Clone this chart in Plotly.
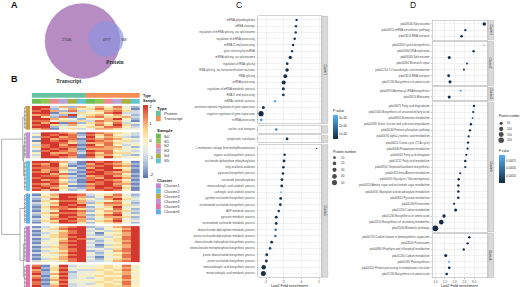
import numpy as np
import plotly.graph_objects as go

W, H = 520, 287
FONT = "Liberation Sans, Arial, sans-serif"
SERIF = "Liberation Serif, Times New Roman, serif"

# ---------------- Panel A: Venn ----------------
venn_names = ["Transcript", "Protein"]
venn_counts = [27446, 4977, 368]   # transcript only, overlap, protein only

# ---------------- Panel B: heatmap ----------------
sample_names = ["S0", "S1", "S2", "S3", "S4", "S5"]
type_names = ["Protein", "Transcript"]
cluster_names = ["Cluster1", "Cluster2", "Cluster3", "Cluster4", "Cluster5", "Cluster6"]
column_types = ["Protein"] * 6 + ["Transcript"] * 6
column_samples = sample_names * 2
type_colors = ["#66C2A5", "#F58E55"]
sample_colors = ["#6CBD55", "#8DC650", "#EF8A8C", "#B7A2DA", "#A9B03F", "#5FC6CF"]
cluster_colors = ["#C97FCB", "#62C5E2", "#C8A23E", "#C393D6", "#EA6EA8", "#62AEE6"]
heat_palette = ["#5A72AE", "#A2B5D5", "#DDE6E8", "#FBF6C9", "#F9D58C", "#F08558", "#D2312B"]
heat_ticks = [-2, -1, 0, 1, 2]
block_order = ["Cluster3", "Cluster4", "Cluster2", "Cluster6", "Cluster1", "Cluster5"]

# row-scaled expression, digit d -> (d-4)/2
rows_cluster3 = ["882616464731", "871364575640", "786172356752", "880525447822",
                 "672183564631", "851704675562", "886431346841", "773525276630",
                 "868071564723", "785263475851", "881434557742", "670352366533"]
rows_cluster4 = ["288760876542", "487871757432", "178672846521", "386770767643",
                 "087861876452", "488751667533", "278680857424", "578771776631",
                 "387860666543", "178761877432", "486672757553", "287870866421",
                 "388760758534"]
rows_cluster2 = ["887620878740", "768410687651", "878501778760", "777630688541",
                 "867511878850", "768420787660", "886701887741", "877520678650",
                 "788611768861", "867420787640", "887510878751", "768631678660",
                 "877400788741", "786521687850", "868412778740"]
rows_cluster6 = ["046887245731", "255876137642", "137885426853", "054776234632",
                 "246886157741", "135878346652", "057787135833", "146765254741",
                 "034887146652", "257776345731", "145886157843", "036877246651",
                 "247786135732", "155876356843", "036885145631"]
rows_cluster1 = ["024678123678", "235788314468", "043578232578", "124678304468",
                 "035688213568", "245678332478", "024587124578", "134678313568",
                 "043788224478", "234678302568", "025688214468", "144678332578",
                 "023578124678", "235688313468", "043578324578", "134688203478",
                 "025678314568", "243578223678"]
rows_cluster5 = ["704823345474", "815734445463", "605832254574", "714713345464",
                 "816823445563", "604724354474", "715823245574", "806734445464",
                 "714833354573", "705723245474", "816823445564", "604734354454"]

# ---------------- Panel C: GO enrichment ----------------
c1_terms = ["mRNA polyadenylation", "mRNA cleavage", "regulation of mRNA splicing, via spliceosome",
            "regulation of mRNA processing", "mRNA 3'-end processing", "gene silencing by miRNA",
            "mRNA splicing, via spliceosome", "regulation of RNA splicing",
            "RNA splicing, via transesterification reactions", "RNA splicing", "mRNA processing",
            "regulation of mRNA metabolic process", "RNA 3'-end processing", "mRNA catabolic process",
            "posttranscriptional regulation of gene expression", "negative regulation of gene expression",
            "ncRNA processing"]
c1_fold = [3.73, 3.69, 3.68, 3.62, 3.53, 3.47, 3.37, 3.20, 3.19, 3.09, 3.00, 2.98, 2.98, 2.51, 1.85, 1.72, 1.73]
c1_count = [7, 7, 7, 8, 8, 7, 17, 10, 19, 22, 27, 13, 10, 8, 13, 52, 11]
c1_p = [6e-7, 6e-7, 5e-7, 5e-7, 6e-7, 7e-7, 4e-7, 6e-7, 4e-7, 4e-7, 4e-7, 6e-7, 7e-7, 3.2e-6, 6e-7, 4e-7, 3.0e-6]
c2_terms = ["nucleic acid transport"]
c2_fold = [2.58]
c2_count = [8]
c2_p = [2.2e-6]
c3_terms = ["cytoplasmic translation"]
c3_fold = [3.19]
c3_count = [10]
c3_p = [5e-7]
c4_terms = ["L-methionine salvage from methylthioadenosine", "organic acid biosynthetic process",
            "nucleoside diphosphate phosphorylation", "fatty acid beta-oxidation",
            "pyruvate biosynthetic process", "nucleotide phosphorylation",
            "monocarboxylic acid catabolic process", "carboxylic acid catabolic process",
            "pyridine nucleotide biosynthetic process", "nicotinamide nucleotide biosynthetic process",
            "ADP metabolic process", "pyruvate metabolic process", "nicotinamide nucleotide metabolic process",
            "ribonucleoside diphosphate metabolic process", "purine nucleoside diphosphate metabolic process",
            "ribonucleoside triphosphate biosynthetic process", "ribonucleoside monophosphate biosynthetic process",
            "purine ribonucleotide biosynthetic process", "purine nucleotide biosynthetic process",
            "monocarboxylic acid biosynthetic process", "monocarboxylic acid metabolic process"]
c4_fold = [4.86, 3.05, 3.02, 2.98, 2.96, 2.90, 2.89, 2.85, 2.83, 2.81, 2.72, 2.58, 2.58, 2.55, 2.53,
           2.32, 2.23, 2.04, 2.02, 1.87, 1.85]
c4_count = [3, 8, 11, 9, 9, 11, 11, 4, 10, 10, 8, 11, 11, 8, 8, 11, 10, 12, 12, 36, 47]
c4_p = [5e-7, 5e-7, 5e-7, 5e-7, 5e-7, 5e-7, 5e-7, 3.3e-6, 5e-7, 5e-7, 6e-7, 6e-7, 6e-7, 1.8e-6, 1.8e-6,
        5e-7, 1.2e-6, 8e-7, 6e-7, 5e-7, 5e-7]
c_strips = ["Cluster1", "", "", "Cluster5"]
c_ticks = [2, 3, 4, 5]
c_size_legend = [10, 20, 30, 40, 50]
c_p_ticks = [1e-6, 2e-6, 3e-6]
c_p_labels = ["1e-06", "2e-06", "3e-06"]

# ---------------- Panel D: KEGG enrichment ----------------
d1_terms = ["pda03040 Spliceosome", "pda03015 mRNA surveillance pathway", "pda03013 RNA transport"]
d1_fold = [3.53, 2.55, 2.36]
d1_count = [61, 18, 26]
d1_p = [5e-5, 8e-5, 6e-5]
d2_terms = ["pda00300 Lysine biosynthesis", "pda03030 DNA replication", "pda03040 Spliceosome",
            "pda03430 Mismatch repair", "pda01210 2-Oxocarboxylic acid metabolism",
            "pda03013 RNA transport", "pda01230 Biosynthesis of amino acids"]
d2_fold = [3.52, 2.98, 1.72, 2.64, 2.48, 1.69, 1.76]
d2_count = [5, 18, 39, 12, 12, 32, 39]
d2_p = [7e-4, 1e-4, 5e-5, 2e-4, 2e-4, 6e-5, 5e-5]
d3_terms = ["pda00970 Aminoacyl-tRNA biosynthesis", "pda03010 Ribosome"]
d3_fold = [2.31, 1.72]
d3_count = [12, 39]
d3_p = [8.5e-4, 5e-5]
d4_terms = ["pda00071 Fatty acid degradation", "pda01040 Biosynthesis of unsaturated fatty acids",
            "pda00650 Butanoate metabolism", "pda00280 Valine, leucine and isoleucine degradation",
            "pda00030 Pentose phosphate pathway", "pda00592 alpha-Linolenic acid metabolism",
            "pda00020 Citrate cycle (TCA cycle)", "pda00640 Propanoate metabolism",
            "pda00062 Fatty acid elongation", "pda01212 Fatty acid metabolism",
            "pda00900 Terpenoid backbone biosynthesis", "pda00410 beta-Alanine metabolism",
            "pda00010 Glycolysis / Gluconeogenesis", "pda00520 Amino sugar and nucleotide sugar metabolism",
            "pda00630 Glyoxylate and dicarboxylate metabolism", "pda00620 Pyruvate metabolism",
            "pda04146 Peroxisome", "pda01200 Carbon metabolism", "pda01230 Biosynthesis of amino acids",
            "pda01110 Biosynthesis of secondary metabolites", "pda01100 Metabolic pathways"]
d4_fold = [3.00, 2.96, 2.93, 2.84, 2.79, 2.72, 2.69, 2.67, 2.60, 2.55, 2.55, 2.29, 2.21, 2.19, 2.19,
           2.19, 1.97, 2.05, 1.45, 1.31, 1.00]
d4_count = [18, 16, 9, 22, 18, 16, 18, 16, 16, 20, 16, 14, 22, 22, 22, 22, 16, 39, 52, 121, 211]
d4_p = [6e-5, 8e-5, 3e-4, 5e-5, 6e-5, 9e-5, 6e-5, 8e-5, 7e-5, 6e-5, 9e-5, 1e-4, 5e-5, 5e-5, 5e-5,
        5e-5, 8e-5, 4e-5, 3e-5, 3e-5, 3e-5]
d5_terms = ["pda00710 Carbon fixation in photosynthetic organisms", "pda03050 Proteasome",
            "pda00860 Porphyrin and chlorophyll metabolism", "pda01200 Carbon metabolism",
            "pda00195 Photosynthesis", "pda04141 Protein processing in endoplasmic reticulum",
            "pda01230 Biosynthesis of amino acids"]
d5_fold = [2.76, 2.67, 2.47, 1.54, 1.71, 1.72, 1.59]
d5_count = [18, 18, 18, 39, 12, 26, 26]
d5_p = [6e-5, 6e-5, 7e-5, 4e-5, 9.3e-4, 6e-5, 5e-5]
d_strips = ["Cluster1", "Cluster2", "Cluster3", "Cluster5", "Cluster6"]
d_ticks = [1.0, 1.5, 2.0, 2.5, 3.0]
d_size_legend = [50, 100, 150, 200]
d_p_ticks = [0.00025, 0.0005, 0.00075]
d_p_labels = ["0.00025", "0.00050", "0.00075"]


# ================= helpers =================
def dx(a, b):
    return [a / W, b / W]


def dy(top, bottom):
    return [1 - bottom / H, 1 - top / H]


annotations = []
shapes = []


def txt(x, y, s, size, xanchor="left", yanchor="middle", bold=False, color="#1a1a1a",
        family=FONT, angle=0):
    if bold:
        s = "<b>" + s + "</b>"
    annotations.append(dict(x=x / W, y=1 - y / H, xref="paper", yref="paper", text=s,
                            showarrow=False, xanchor=xanchor, yanchor=yanchor, textangle=angle,
                            font=dict(family=family, size=size, color=color), borderpad=0))


def rect(x0, y0, x1, y1, fill, line=None, lw=0):
    shapes.append(dict(type="rect", xref="x13", yref="y13", x0=x0, x1=x1, y0=y0, y1=y1,
                       fillcolor=fill, line=dict(color=line or fill, width=lw), layer="above"))


fig = go.Figure()
layout = dict(width=W, height=H, margin=dict(l=0, r=0, t=0, b=0), autosize=False,
              paper_bgcolor="white", plot_bgcolor="rgba(0,0,0,0)", showlegend=False,
              font=dict(family=FONT, size=4, color="#222"))

# canvas axis (pixel coordinates) for decorations
layout["xaxis13"] = dict(domain=[0, 1], range=[0, W], visible=False, anchor="y13", fixedrange=True)
layout["yaxis13"] = dict(domain=[0, 1], range=[H, 0], visible=False, anchor="x13", fixedrange=True)

# ================= Panel A: Venn =================
big = dict(cx=82.5, cy=41, r=37.5)
small = dict(cx=106, cy=39, r=17.5)
shapes.append(dict(type="circle", xref="x13", yref="y13", x0=big["cx"] - big["r"], x1=big["cx"] + big["r"],
                   y0=big["cy"] - big["r"], y1=big["cy"] + big["r"], fillcolor="#B78CC2",
                   line=dict(color="#A983B8", width=0.4), layer="above"))
shapes.append(dict(type="circle", xref="x13", yref="y13", x0=small["cx"] - small["r"], x1=small["cx"] + small["r"],
                   y0=small["cy"] - small["r"], y1=small["cy"] + small["r"], fillcolor="rgba(140,148,222,0.7)",
                   line=dict(color="rgba(140,150,222,0.5)", width=0.3), layer="above"))
txt(66.5, 40, f"{venn_counts[0]}", 3.4, xanchor="center", color="#333")
txt(106.5, 40, f"{venn_counts[1]}", 3.4, xanchor="center", color="#333")
txt(123.5, 40, f"{venn_counts[2]}", 3.4, xanchor="center", color="#333")
txt(114.5, 61.7, venn_names[1], 5.6, xanchor="center", bold=True, family=SERIF, color="#333")
txt(68.5, 81, venn_names[0], 5.6, xanchor="center", bold=True, family=SERIF, color="#333")

# ================= Panel B: heatmap =================
ROW_GAP = 1.3
HEAT_TOP, HEAT_BOTTOM, ROW_PX = 105.7, 287.0, 2.0
span_rows = (HEAT_BOTTOM - HEAT_TOP) / ROW_PX
layout["xaxis"] = dict(domain=dx(31.7, 140), range=[-0.5, 11.5], visible=False, anchor="y", fixedrange=True)
layout["yaxis"] = dict(domain=dy(HEAT_TOP, HEAT_BOTTOM), range=[span_rows - 0.5, -0.5], visible=False,
                       anchor="x", fixedrange=True)
layout["yaxis2"] = dict(domain=dy(93, 104.5), range=[1.5, -0.5], visible=False, anchor="x", fixedrange=True)
layout["xaxis3"] = dict(domain=dx(26, 30), range=[-0.5, 0.5], visible=False, anchor="y", fixedrange=True)

blocks = {"Cluster1": rows_cluster1, "Cluster2": rows_cluster2, "Cluster3": rows_cluster3,
          "Cluster4": rows_cluster4, "Cluster5": rows_cluster5, "Cluster6": rows_cluster6}
offset = 0.0
block_centers = {}
block_rows_px = {}
for name in block_order:
    rows = blocks[name]
    z = np.array([[(int(ch) - 4) / 2 for ch in r] for r in rows])
    n = len(rows)
    yv = offset + np.arange(n)
    fig.add_trace(go.Heatmap(z=z, x=list(range(12)), y=yv, coloraxis="coloraxis", xaxis="x", yaxis="y",
                             hoverinfo="skip"))
    col = cluster_colors[cluster_names.index(name)]
    fig.add_trace(go.Heatmap(z=[[0]] * n, x=[0], y=yv, colorscale=[[0, col], [1, col]], showscale=False,
                             xaxis="x3", yaxis="y", hoverinfo="skip"))
    block_rows_px[name] = [HEAT_TOP + (r + 0.5) * ROW_PX for r in yv]
    block_centers[name] = HEAT_TOP + (offset + n / 2) * ROW_PX
    offset += n + ROW_GAP

ann_colors = type_colors + sample_colors
k = len(ann_colors)
ann_scale = []
for i, c in enumerate(ann_colors):
    ann_scale += [[i / k, c], [(i + 1) / k, c]]
ann_z = [[type_names.index(t) for t in column_types],
         [len(type_names) + sample_names.index(s) for s in column_samples]]
fig.add_trace(go.Heatmap(z=ann_z, x=list(range(12)), y=[0, 1], zmin=-0.5, zmax=k - 0.5, colorscale=ann_scale,
                         showscale=False, ygap=1.3, xaxis="x", yaxis="y2", hoverinfo="skip"))
txt(141.5, 95.6, "Type", 3.6, bold=True)
txt(141.5, 101.2, "Sample", 3.6, bold=True)

layout["coloraxis"] = dict(
    colorscale=[[i / (len(heat_palette) - 1), c] for i, c in enumerate(heat_palette)],
    cmin=-2.25, cmax=2.05,
    colorbar=dict(x=142.7 / W, xanchor="left", y=1 - 178.3 / H, yanchor="bottom", len=73.3 / H,
                  lenmode="fraction", thickness=4.6, thicknessmode="pixels", xpad=0, ypad=0,
                  outlinewidth=0, tickvals=heat_ticks, ticktext=[str(t) for t in heat_ticks],
                  tickfont=dict(size=4.2, family=FONT, color="#222"), ticks=""))

# dendrogram
dx_, dy_ = [], []


def seg(x0, y0, x1, y1):
    dx_.extend([x0, x1, None])
    dy_.extend([y0, y1, None])


for name in block_order:
    ys = block_rows_px[name]
    mids = []
    for i in range(0, len(ys), 2):
        pair = ys[i:i + 2]
        for yy in pair:
            seg(25.9, yy, 25.2, yy)
        if len(pair) == 2:
            seg(25.2, pair[0], 25.2, pair[1])
        m = sum(pair) / len(pair)
        mids.append(m)
        seg(25.2, m, 24.4, m)
    seg(24.4, mids[0], 24.4, mids[-1])

cC = block_centers
seg(24.4, cC["Cluster4"], 23.6, cC["Cluster4"])
seg(24.4, cC["Cluster2"], 23.6, cC["Cluster2"])
seg(23.6, cC["Cluster4"], 23.6, cC["Cluster2"])
n42 = (cC["Cluster4"] + cC["Cluster2"]) / 2
seg(24.4, cC["Cluster3"], 22.7, cC["Cluster3"])
seg(23.6, n42, 22.7, n42)
seg(22.7, cC["Cluster3"], 22.7, n42)
upper = (cC["Cluster3"] + n42) / 2
seg(24.4, cC["Cluster1"], 23.4, cC["Cluster1"])
seg(24.4, cC["Cluster5"], 23.4, cC["Cluster5"])
seg(23.4, cC["Cluster1"], 23.4, cC["Cluster5"])
n15 = (cC["Cluster1"] + cC["Cluster5"]) / 2
seg(24.4, cC["Cluster6"], 20.0, cC["Cluster6"])
seg(23.4, n15, 20.0, n15)
seg(20.0, cC["Cluster6"], 20.0, n15)
lower = (cC["Cluster6"] + n15) / 2
seg(22.7, upper, 1.7, upper)
seg(20.0, lower, 1.7, lower)
seg(1.7, upper, 1.7, lower)
fig.add_trace(go.Scatter(x=dx_, y=dy_, mode="lines", line=dict(color="#555", width=0.45),
                         xaxis="x13", yaxis="y13", hoverinfo="skip", cliponaxis=False))

# B legends
def legend_block(title, names, colors, ytitle, ystart, step=5.2):
    txt(156, ytitle, title, 4.4, bold=True)
    for i, (nm, c) in enumerate(zip(names, colors)):
        y0 = ystart + i * step
        rect(156, y0, 160.8, y0 + step, c)
        txt(162.8, y0 + step / 2, nm, 4.2, color="#333")


legend_block("Type", type_names, type_colors, 108.3, 110.8)
legend_block("Sample", sample_names, sample_colors, 130.7, 133.6, step=4.95)
legend_block("Cluster", cluster_names, cluster_colors, 180, 183.4, step=5.15)

# ================= dot plots =================
def dot_size(v, vmin, vmax, dmin, dmax):
    v = np.asarray(v, dtype=float)
    return dmin + (dmax - dmin) * np.sqrt(np.clip((v - vmin) / (vmax - vmin), 0, 1))


def facet_domains(top, unit, gap, counts):
    doms, y = [], top
    for n in counts:
        h = (n + 0.2) * unit
        doms.append((y, y + h))
        y += h + gap
    return doms


def add_panel(idx, terms, fold, counts, pvals, xdom, ydom, xrange, majors, labels, bottom, cax, srange):
    n = len(terms)
    fig.add_trace(go.Scatter(x=fold, y=list(range(n)), mode="markers",
                             marker=dict(size=dot_size(counts, *srange), color=pvals, coloraxis=cax,
                                         line=dict(width=0), opacity=1),
                             xaxis=f"x{idx}", yaxis=f"y{idx}", hoverinfo="skip", cliponaxis=False))
    minors = [m + (majors[1] - majors[0]) / 2 for m in [majors[0] - (majors[1] - majors[0])] + majors]
    layout[f"xaxis{idx}"] = dict(
        domain=dx(*xdom), range=xrange, anchor=f"y{idx}", tickmode="array", tickvals=majors, ticktext=labels,
        showticklabels=bottom, ticks="outside" if bottom else "", ticklen=1.2, tickwidth=0.4, tickcolor="#555",
        tickfont=dict(size=3.1, color="#4D4D4D", family=FONT), showgrid=True, gridcolor="#E6E6E6", gridwidth=0.5,
        minor=dict(tickvals=minors, showgrid=True, gridcolor="#F2F2F2", gridwidth=0.3, ticks=""),
        showline=True, mirror=True, linecolor="#A6A6A6", linewidth=0.5, zeroline=False, fixedrange=True)
    layout[f"yaxis{idx}"] = dict(
        domain=dy(*ydom), range=[n - 0.4, -0.6], anchor=f"x{idx}", tickmode="array",
        tickvals=list(range(n)), ticktext=terms, ticks="outside", ticklen=1, tickwidth=0.3, tickcolor="#555",
        tickfont=dict(size=2.8, color="#4D4D4D", family=FONT), showgrid=True, gridcolor="#E6E6E6",
        gridwidth=0.5, showline=True, mirror=True, linecolor="#A6A6A6", linewidth=0.5, zeroline=False,
        fixedrange=True, ticklabelstandoff=1)


# ---- C
c_sets = [(c1_terms, c1_fold, c1_count, c1_p), (c2_terms, c2_fold, c2_count, c2_p),
          (c3_terms, c3_fold, c3_count, c3_p), (c4_terms, c4_fold, c4_count, c4_p)]
c_all_counts = sum([s[2] for s in c_sets], [])
c_all_p = sum([s[3] for s in c_sets], [])
c_srange = (min(c_all_counts), max(c_all_counts), 1.2, 5.2)
C_X = (258, 321.5)
c_doms = facet_domains(16.2, 6.25, 2.0, [len(s[0]) for s in c_sets])
for i, (s, dom) in enumerate(zip(c_sets, c_doms)):
    add_panel(4 + i, *s, C_X, dom, [1.548, 5.136], c_ticks, [str(t) for t in c_ticks], i == len(c_sets) - 1,
              "coloraxis2", c_srange)
    rect(C_X[1] + 0.4, dom[0], C_X[1] + 6.2, dom[1], "#D9D9D9", "#A6A6A6", 0.4)
    if c_strips[i]:
        txt(C_X[1] + 3.3, (dom[0] + dom[1]) / 2, c_strips[i], 2.9, xanchor="center", angle=90, color="#333")
txt(sum(C_X) / 2, 285.6, "Log2 Fold enrichment", 3.8, xanchor="center", color="#222")

layout["coloraxis2"] = dict(
    colorscale=[[0, "#132B43"], [1, "#56B1F7"]], cmin=min(c_all_p), cmax=max(c_all_p),
    colorbar=dict(x=333 / W, xanchor="left", y=1 - 139.3 / H, yanchor="bottom", len=24.3 / H, lenmode="fraction",
                  thickness=5, thicknessmode="pixels", xpad=0, ypad=0, outlinewidth=0, tickvals=c_p_ticks,
                  ticktext=c_p_labels, tickfont=dict(size=3, family=FONT, color="#333"), ticks=""))
txt(331.5, 111, "P value", 3.4, color="#222")
txt(331.5, 151.7, "Protein number", 3.4, color="#222")
c_leg_y = [157.7, 163.4, 169.8, 176.4, 182.6]
fig.add_trace(go.Scatter(x=[334.5] * len(c_size_legend), y=c_leg_y, mode="markers",
                         marker=dict(size=dot_size(c_size_legend, *c_srange), color="black", line=dict(width=0)),
                         xaxis="x13", yaxis="y13", hoverinfo="skip", cliponaxis=False))
for v, yy in zip(c_size_legend, c_leg_y):
    txt(339.5, yy, str(v), 3, color="#333")

# ---- D
d_sets = [(d1_terms, d1_fold, d1_count, d1_p), (d2_terms, d2_fold, d2_count, d2_p),
          (d3_terms, d3_fold, d3_count, d3_p), (d4_terms, d4_fold, d4_count, d4_p),
          (d5_terms, d5_fold, d5_count, d5_p)]
d_all_counts = sum([s[2] for s in d_sets], [])
d_all_p = sum([s[3] for s in d_sets], [])
d_srange = (min(d_all_counts), max(d_all_counts), 1.2, 5.7)
D_X = (432.7, 487.7)
d_doms = facet_domains(20.3, 6.12, 1.6, [len(s[0]) for s in d_sets])
for i, (s, dom) in enumerate(zip(d_sets, d_doms)):
    add_panel(8 + i, *s, D_X, dom, [0.866, 3.708], d_ticks, [f"{t:.1f}" for t in d_ticks],
              i == len(d_sets) - 1, "coloraxis3", d_srange)
    rect(D_X[1] + 0.4, dom[0], D_X[1] + 6.0, dom[1], "#D9D9D9", "#A6A6A6", 0.4)
    txt(D_X[1] + 3.2, (dom[0] + dom[1]) / 2, d_strips[i], 2.9, xanchor="center", angle=90, color="#333")
txt(sum(D_X) / 2, 285.8, "Log2 Fold enrichment", 3.8, xanchor="center", color="#222")

layout["coloraxis3"] = dict(
    colorscale=[[0, "#132B43"], [1, "#56B1F7"]], cmin=min(d_all_p), cmax=max(d_all_p),
    colorbar=dict(x=499.3 / W, xanchor="left", y=1 - 183 / H, yanchor="bottom", len=28 / H, lenmode="fraction",
                  thickness=5.5, thicknessmode="pixels", xpad=0, ypad=0, outlinewidth=0, tickvals=d_p_ticks,
                  ticktext=d_p_labels, tickfont=dict(size=2.8, family=FONT, color="#333"), ticks=""))
txt(497.8, 150.7, "P value", 3.1, color="#222")
txt(497.8, 115.5, "Protein number", 3.0, color="#222")
d_leg_y = [123.3, 129, 134.5, 140.3]
fig.add_trace(go.Scatter(x=[501.2] * len(d_size_legend), y=d_leg_y, mode="markers",
                         marker=dict(size=dot_size(d_size_legend, *d_srange), color="black", line=dict(width=0)),
                         xaxis="x13", yaxis="y13", hoverinfo="skip", cliponaxis=False))
for v, yy in zip(d_size_legend, d_leg_y):
    txt(506, yy, str(v), 2.9, color="#333")

# panel letters
txt(14, 5.5, "A", 9, xanchor="center", bold=True, color="#111")
txt(14.5, 79.3, "B", 9, xanchor="center", bold=True, color="#111")
txt(239, 5.5, "C", 8.5, xanchor="center", color="#111")
txt(412.5, 5.5, "D", 8.5, xanchor="center", color="#111")

layout["annotations"] = annotations
layout["shapes"] = shapes
fig.update_layout(**layout)
fig.write_html("out.html", config={"displayModeBar": False, "staticPlot": True},
               post_script="document.body.style.margin='0px';document.body.style.overflow='hidden';")
